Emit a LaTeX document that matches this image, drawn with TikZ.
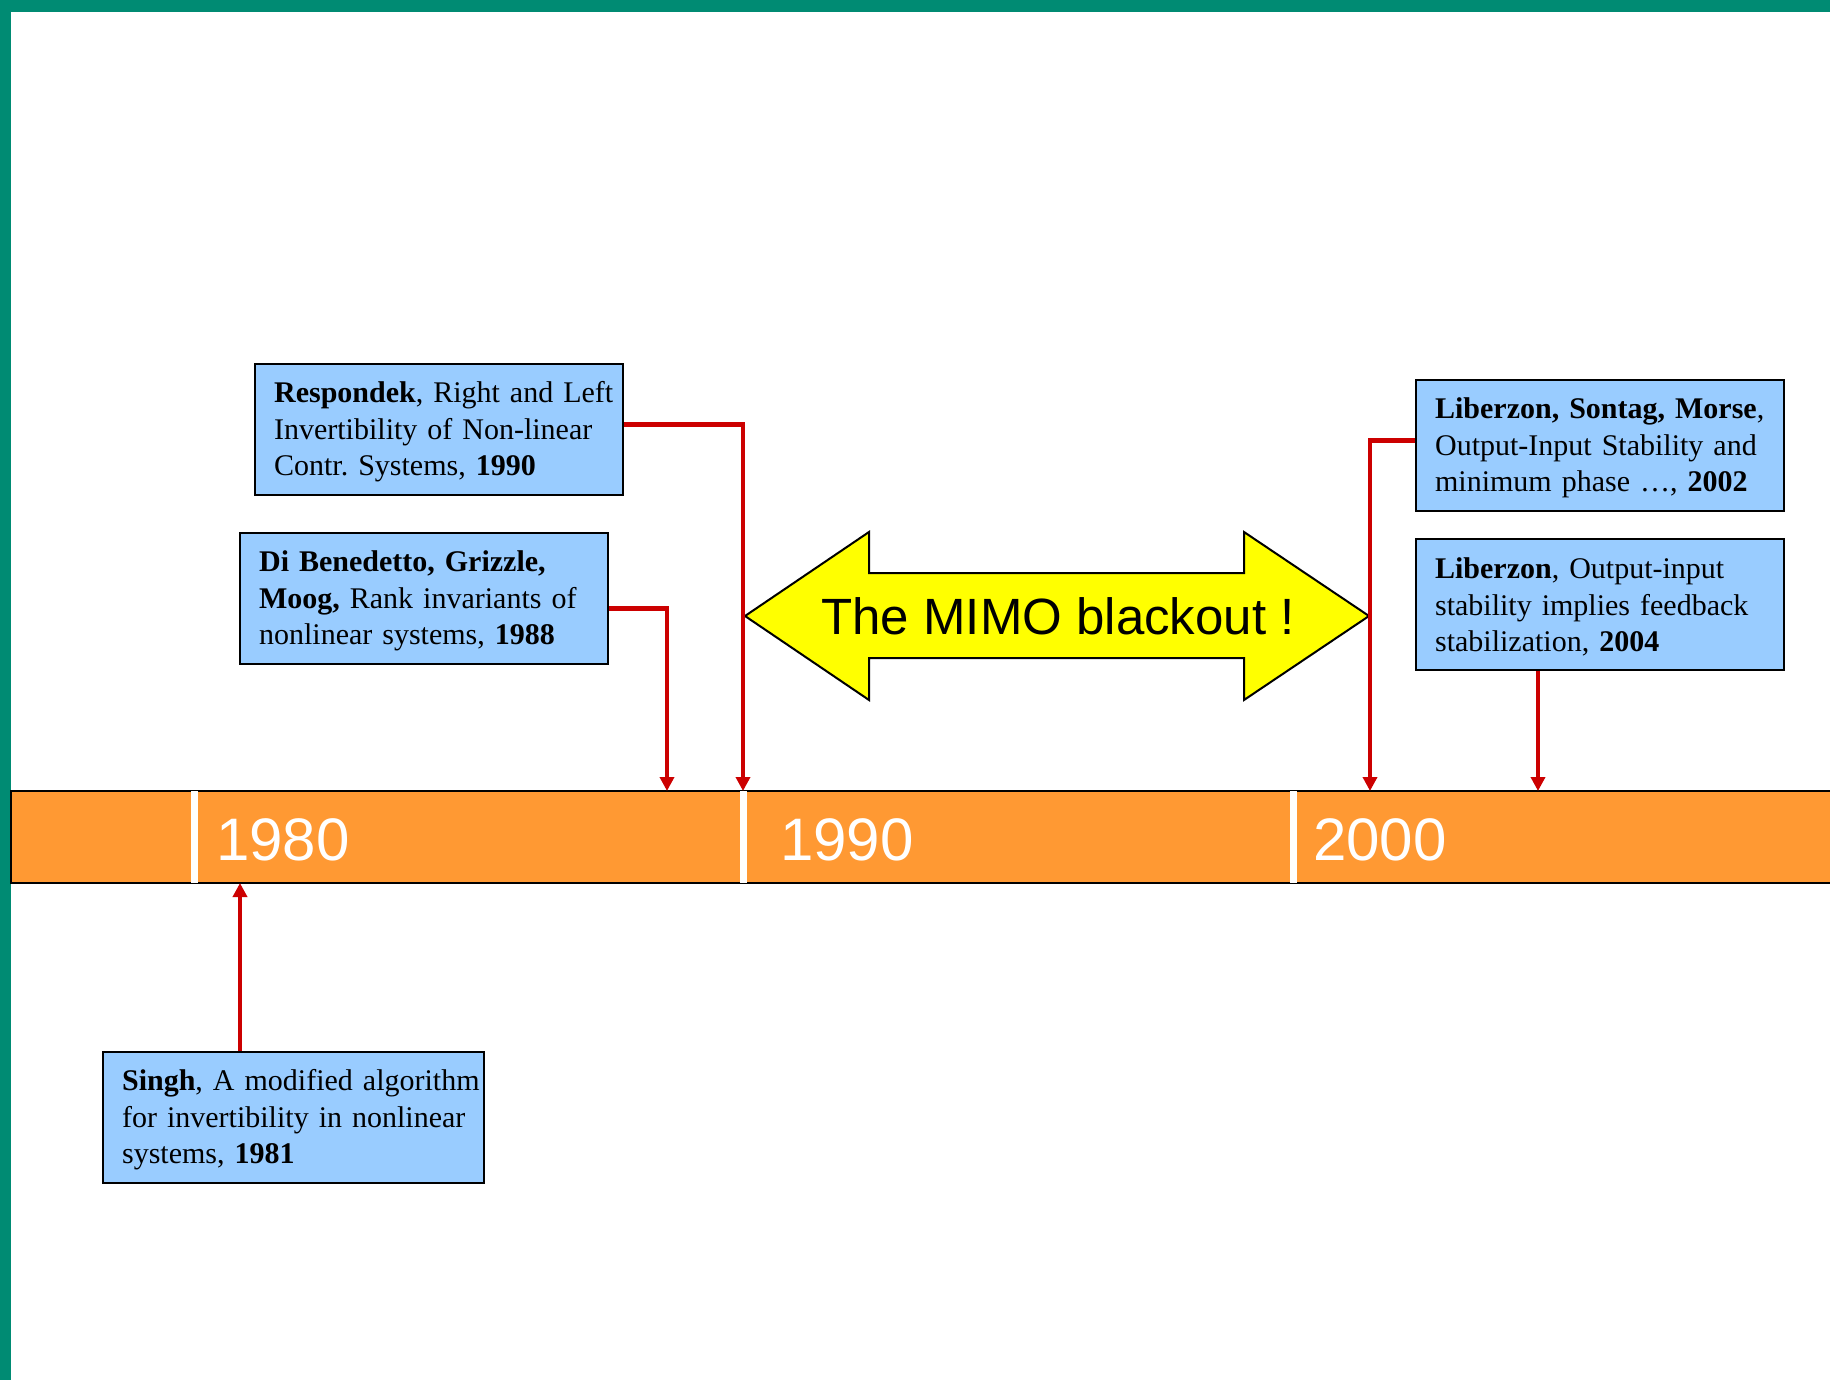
\documentclass[tikz,border=0pt]{standalone}
\usepackage{fontspec}
\setmainfont{Liberation Serif}
\newfontfamily\arialfont{Liberation Sans}
\usetikzlibrary{arrows.meta}
\definecolor{frameteal}{RGB}{0,139,115}
\definecolor{barorange}{RGB}{255,153,51}
\definecolor{boxblue}{RGB}{153,204,255}
\definecolor{conred}{RGB}{204,0,0}
\definecolor{mimoyellow}{RGB}{255,255,0}
\newcommand{\boxline}[1]{\mbox{#1}}
\newcommand{\firstline}[1]{\mbox{\rule{0pt}{25.5pt}#1}}
\begin{document}
\begin{tikzpicture}[x=1pt,y=-1pt,
  refbox/.style={draw=black, line width=2.2pt, fill=boxblue, anchor=north west,
    inner xsep=19pt, inner ysep=0pt, text width=#1, minimum height=131pt,
    align=left, font=\fontsize{30}{36.5}\selectfont},
  conn/.style={draw=conred, line width=4.5pt, -{Triangle[width=14pt,length=14pt]}},
  yearlabel/.style={anchor=base west, text=white, inner sep=0pt,
    font=\arialfont\fontsize{60}{60}\selectfont},
  tick/.style={draw=white, line width=7pt}]
\useasboundingbox (0,0) rectangle (1830,1380);
\fill[white] (0,0) rectangle (1830,1380);
% frame
\fill[frameteal] (0,0) rectangle (1830,12);
\fill[frameteal] (0,0) rectangle (11,1380);
% timeline
\draw[fill=barorange, line width=2pt] (11,791) rectangle (1834,883);
\draw[tick] (194,791) -- (194,883);
\draw[tick] (743,791) -- (743,883);
\draw[tick] (1293,791) -- (1293,883);
\node[yearlabel] (y1980) at (216,860) {1980};
\node[yearlabel] (y1990) at (780,860) {1990};
\node[yearlabel] (y2000) at (1313,860) {2000};
% anchor points on the timeline
\coordinate (t1988) at (667,791);
\coordinate (t1990) at (743,791);
\coordinate (t2002) at (1370,791);
\coordinate (t2004) at (1538,791);
\coordinate (t1981) at (240,883);
% double arrow
\draw[fill=mimoyellow, line width=2pt, line join=miter]
  (745,616) -- (869,532) -- (869,573) -- (1244,573) -- (1244,532) -- (1369,616)
  -- (1244,700) -- (1244,658) -- (869,658) -- (869,700) -- cycle;
\node (mimo) at (1058,616) {\arialfont\fontsize{51}{51}\selectfont The MIMO blackout !};
% boxes
\node[refbox=330pt] (resp) at (254,363)
  {\firstline{\textbf{Respondek}, Right and Left}\\ \boxline{Invertibility of Non-linear}\\ \boxline{Contr.\ Systems, \textbf{1990}}};
\node[refbox=330pt] (dib) at (239,532)
  {\firstline{\textbf{Di Benedetto, Grizzle,}}\\ \boxline{\textbf{Moog,} Rank invariants of}\\ \boxline{nonlinear systems, \textbf{1988}}};
\node[refbox=330pt] (lsm) at (1415,379)
  {\firstline{\textbf{Liberzon, Sontag, Morse},}\\ \boxline{Output-Input Stability and}\\ \boxline{minimum phase …, \textbf{2002}}};
\node[refbox=330pt] (lib) at (1415,538)
  {\firstline{\textbf{Liberzon}, Output-input}\\ \boxline{stability implies feedback}\\ \boxline{stabilization, \textbf{2004}}};
\node[refbox=343pt] (singh) at (102,1051)
  {\firstline{\textbf{Singh}, A modified algorithm}\\ \boxline{for invertibility in nonlinear}\\ \boxline{systems, \textbf{1981}}};
% connectors
\draw[conn] ([yshift=5pt]resp.east) -| (t1990);
\draw[conn] ([yshift=-10pt]dib.east) -| (t1988);
\draw[conn] ([yshift=5pt]lsm.west) -| (t2002);
\draw[conn] (lib.south -| t2004) -- (t2004);
\draw[conn] (singh.north -| t1981) -- (t1981);
\end{tikzpicture}
\end{document}
